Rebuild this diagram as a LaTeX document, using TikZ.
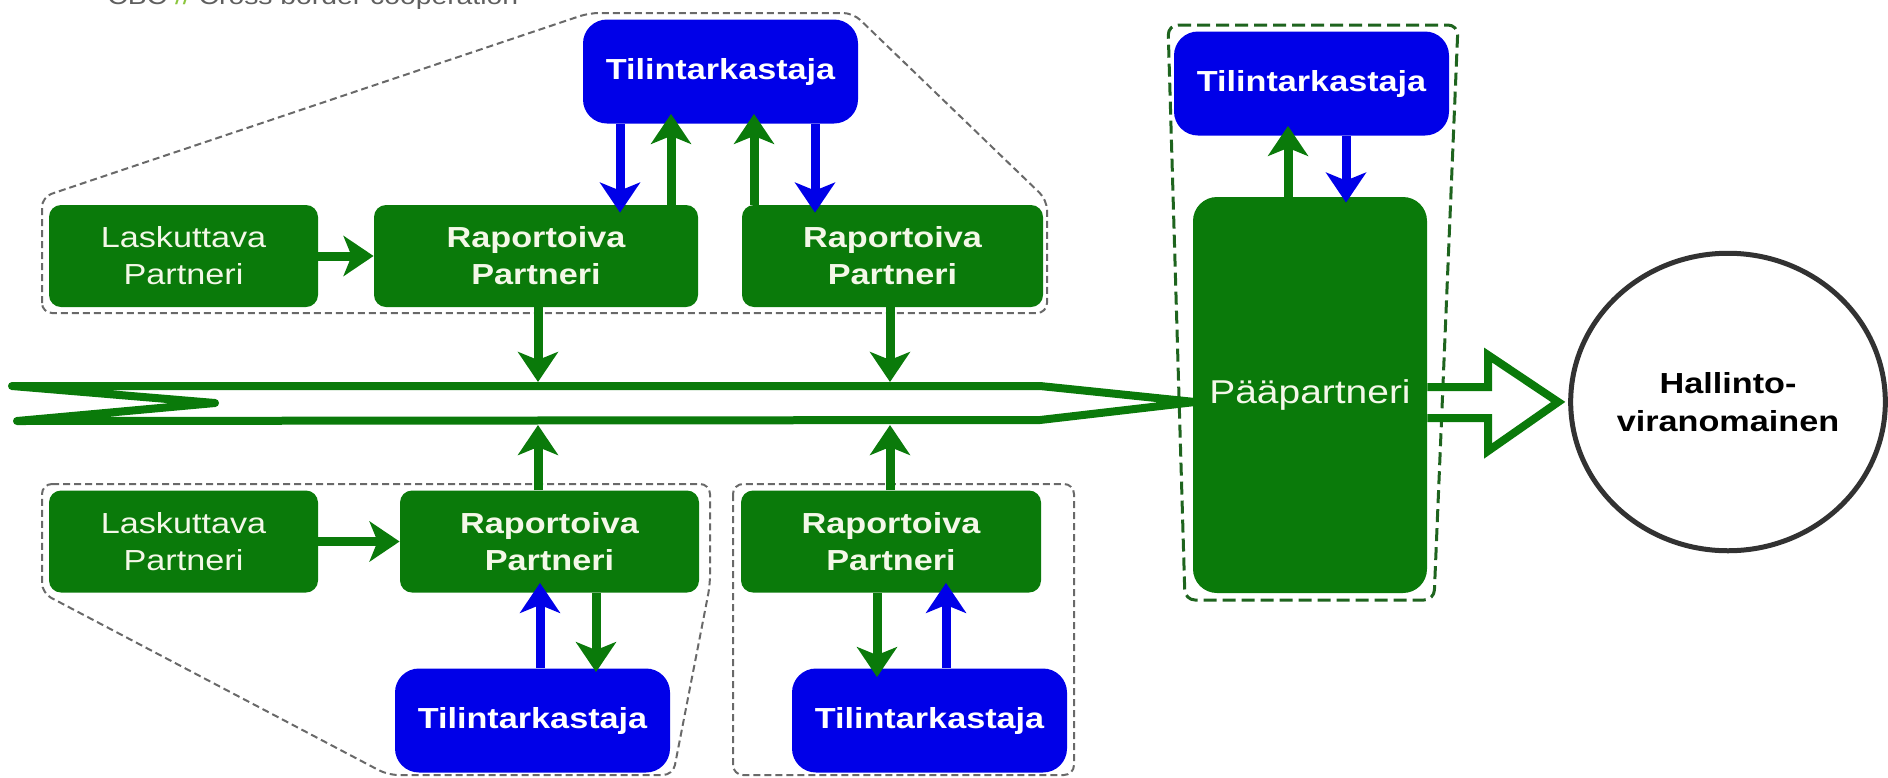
\documentclass[tikz,border=0pt]{standalone}
\usepackage{fontspec}
\setmainfont{Liberation Sans}[FakeStretch=1.18]
\usetikzlibrary{arrows.meta,calc,shapes.geometric}
\definecolor{gfill}{RGB}{10,122,10}
\definecolor{bfill}{RGB}{0,0,232}
\definecolor{gtext}{RGB}{244,248,232}
\definecolor{dgray}{RGB}{105,105,105}
\definecolor{dgreen}{RGB}{30,100,30}
\definecolor{ringc}{RGB}{50,50,50}
\definecolor{capgray}{RGB}{95,95,95}
\definecolor{capgreen}{RGB}{140,198,63}
\begin{document}
\begin{tikzpicture}[x=0.5pt,y=-0.5pt,
  gbox/.style={fill=gfill, rounded corners=6pt, text=gtext, align=center, inner sep=0pt,
    minimum height=51pt, font=\fontsize{14.5}{18.5}\selectfont},
  gboxb/.style={gbox, font=\bfseries\fontsize{14.5}{18.5}\selectfont},
  bluebox/.style={fill=bfill, rounded corners=12pt, text=white, align=center, inner sep=0pt,
    minimum width=137.5pt, minimum height=52pt, font=\bfseries\fontsize{14.5}{18.5}\selectfont},
  grp/.style={draw=dgray, line width=1pt, dash pattern=on 3.5pt off 2pt, rounded corners=5pt},
  ga/.style={draw=gfill, line width=4.5pt, -{Stealth[length=15pt,width=20pt,inset=4pt]}},
  ba/.style={draw=bfill, line width=4.5pt, -{Stealth[length=15pt,width=20pt,inset=4pt]}},
  pipe/.style={draw=gfill, line width=4pt}
]
\useasboundingbox (0,0) rectangle (1888,777);

% caption (cut off at top)
\node[anchor=base west, inner sep=0pt, text=capgray, font=\fontsize{12}{14}\selectfont] (cap) at (107,4.5)
  {CBC \textcolor{capgreen}{//} Cross border cooperation};

% groups
\draw[grp] (42,313) -- (42,197) -- (589,13) -- (853,13) -- (1047,200) -- (1047,313) -- cycle;
\draw[grp] (42,484) -- (710,484) -- (710,585) -- (673,775) -- (388,775) -- (42,593) -- cycle;
\draw[grp] (733,484) rectangle (1074,775);
\draw[draw=dgreen, line width=1.5pt, dash pattern=on 6.5pt off 3pt, rounded corners=5pt]
  (1168,25) -- (1458,25) -- (1434,600) -- (1185,600) -- cycle;

% bus
\draw[pipe, line join=round] (12,386) -- (1040,386) -- (1195,402) -- (1040,420) -- (17,421) -- (215,403) -- cycle;

% nodes
\node[gbox, minimum width=134.5pt] (L1) at (183.5,256) {Laskuttava\\Partneri};
\node[gboxb, minimum width=162pt] (R1) at (536,256) {Raportoiva\\Partneri};
\node[gboxb, minimum width=150.5pt] (R2) at (892.5,256) {Raportoiva\\Partneri};
\node[bluebox] (T1) at (720.5,71.5) {Tilintarkastaja};
\node[gbox, minimum width=134.5pt] (L2) at (183.5,541.5) {Laskuttava\\Partneri};
\node[gboxb, minimum width=149.5pt] (R3) at (549.5,541.5) {Raportoiva\\Partneri};
\node[gboxb, minimum width=150pt] (R4) at (891,541.5) {Raportoiva\\Partneri};
\node[bluebox] (T2) at (532.5,720.5) {Tilintarkastaja};
\node[bluebox] (T3) at (929.5,720.5) {Tilintarkastaja};
\node[bluebox] (T4) at (1311.5,83.5) {Tilintarkastaja};
\node[gbox, rounded corners=12pt, minimum width=117pt, minimum height=198pt,
  font=\fontsize{16.5}{20}\selectfont] (P) at (1310,395) {Pääpartneri};
\node[ellipse, draw=ringc, line width=2.5pt, minimum width=154.75pt, minimum height=148.75pt,
  inner sep=0pt, align=center, font=\bfseries\fontsize{14.5}{19}\selectfont] (E) at (1728,402)
  {Hallinto-\\viranomainen};

% helper coordinates
\coordinate (bt) at (0,382);
\coordinate (bb) at (0,425);
\coordinate (xa) at (620,0);
\coordinate (xb) at (671,0);
\coordinate (xc) at (754,0);
\coordinate (xd) at (815,0);
\coordinate (xe) at (538,0);
\coordinate (xf) at (540,0);
\coordinate (xg) at (596,0);
\coordinate (xh) at (877,0);
\coordinate (xi) at (946,0);
\coordinate (xj) at (1288,0);
\coordinate (xk) at (1346,0);
\coordinate (xm) at (890,0);
\coordinate (ha1) at (0,387);
\coordinate (ha2) at (0,418);

% top arrows
\draw[ga] (L1.east) -- (R1.west);
\draw[ba, shorten >=-4pt] (T1.south -| xa) -- (R1.north -| xa);
\draw[ga, shorten >=-5pt] (R1.north -| xb) -- (T1.south -| xb);
\draw[ga, shorten >=-5pt] (R2.north -| xc) -- (T1.south -| xc);
\draw[ba, shorten >=-4pt] (T1.south -| xd) -- (R2.north -| xd);
\draw[ga] (R1.south -| xe) -- (bt -| xe);
\draw[ga] (R2.south -| xm) -- (bt -| xm);

% bottom arrows
\draw[ga] (R3.north -| xe) -- (bb -| xe);
\draw[ga] (R4.north -| xm) -- (bb -| xm);
\draw[ga] (L2.east) -- (R3.west);
\draw[ba, shorten >=-5pt] (T2.north -| xf) -- (R3.south -| xf);
\draw[ga, shorten >=-2pt] (R3.south -| xg) -- (T2.north -| xg);
\draw[ga, shorten >=-4.5pt] (R4.south -| xh) -- (T3.north -| xh);
\draw[ba, shorten >=-5pt] (T3.north -| xi) -- (R4.south -| xi);

% right arrows
\draw[ga, shorten >=-5pt] (P.north -| xj) -- (T4.south -| xj);
\draw[ba, shorten >=-3pt] (T4.south -| xk) -- (P.north -| xk);

% hollow arrow to authority
\draw[pipe, line join=miter] (P.east |- ha1) -- (1488,387) -- (1488,355) -- ($(E.west)+(-10,0)$)
  -- (1488,451) -- (1488,418) -- (P.east |- ha2);
\end{tikzpicture}
\end{document}
